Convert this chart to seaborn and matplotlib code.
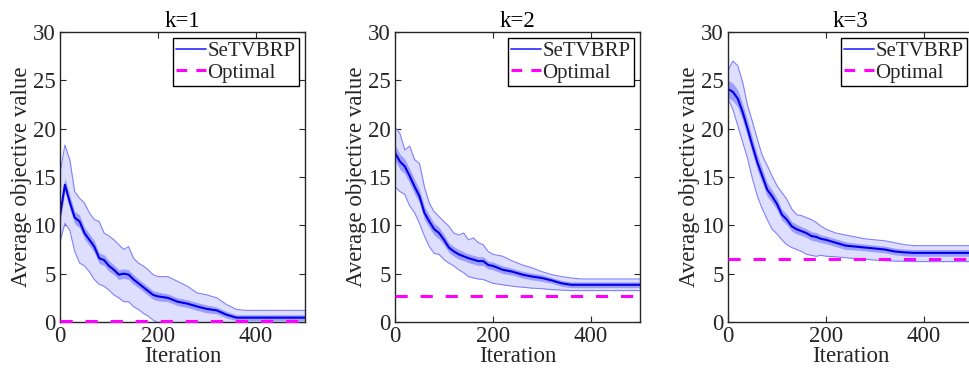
import numpy as np
import pandas as pd
import matplotlib
matplotlib.use("Agg")
import matplotlib.pyplot as plt
import seaborn as sns
from matplotlib.lines import Line2D

# ---------------- data ----------------
ITER = [0, 10, 20, 30, 40, 50, 60, 70, 80, 90, 100, 110, 120, 130, 140, 150,
        160, 170, 180, 190, 200, 220, 240, 260, 280, 300, 320, 340, 360, 380,
        400, 420, 440, 460, 480, 500]

TITLES = ["k=1", "k=2", "k=3"]
OPTIMAL = [0.1, 2.7, 6.5]

mean_k1 = [11.0, 14.2, 12.4, 10.8, 10.4, 9.2, 8.5, 7.8, 6.6, 6.4, 5.8, 5.4, 4.9,
           5.0, 4.9, 4.4, 4.0, 3.6, 3.2, 2.8, 2.65, 2.5, 2.1, 1.9, 1.6, 1.35,
           1.2, 0.75, 0.45, 0.45, 0.45, 0.45, 0.45, 0.45, 0.45, 0.45]
upper_k1 = [15.4, 18.3, 16.8, 13.5, 12.8, 12.3, 11.3, 10.6, 10.4, 9.2, 8.9, 8.5,
            8.0, 7.5, 7.8, 6.6, 6.1, 5.8, 5.4, 4.9, 4.7, 4.7, 4.2, 3.7, 3.0,
            2.8, 2.5, 1.8, 1.3, 1.2, 1.2, 1.2, 1.2, 1.2, 1.2, 1.2]
lower_k1 = [8.3, 10.2, 9.5, 7.3, 6.1, 5.8, 5.2, 4.4, 3.9, 3.7, 3.3, 2.8, 2.5,
            2.1, 2.1, 1.6, 1.3, 0.9, 0.6, 0.2, -0.1, -0.3, -0.5, -0.6, -0.6,
            -0.6, -0.5, -0.4, -0.3, -0.3, -0.3, -0.3, -0.3, -0.3, -0.3, -0.3]
inner_k1 = [0.7, 0.7, 0.7, 0.65, 0.65, 0.6, 0.6, 0.6, 0.55, 0.55, 0.55, 0.5,
            0.5, 0.5, 0.5, 0.5, 0.45, 0.45, 0.45, 0.45, 0.45, 0.4, 0.4, 0.4,
            0.4, 0.4, 0.35, 0.35, 0.3, 0.3, 0.3, 0.3, 0.3, 0.3, 0.3, 0.3]

mean_k2 = [17.5, 16.6, 16.1, 15.1, 14.0, 13.0, 11.3, 10.4, 9.6, 9.2, 8.5, 7.7,
           7.3, 7.0, 6.8, 6.6, 6.45, 6.3, 6.3, 5.9, 5.8, 5.4, 5.2, 4.9, 4.7,
           4.55, 4.3, 4.0, 3.85, 3.85, 3.85, 3.85, 3.85, 3.85, 3.85, 3.85]
upper_k2 = [20.2, 19.5, 17.8, 18.2, 16.8, 16.4, 14.0, 12.3, 11.4, 10.9, 10.4,
            9.9, 9.2, 9.0, 9.2, 8.5, 8.7, 8.2, 8.0, 7.3, 7.0, 6.8, 6.3, 5.9,
            5.6, 5.2, 4.9, 4.7, 4.55, 4.45, 4.45, 4.45, 4.45, 4.45, 4.45, 4.45]
lower_k2 = [14.0, 13.5, 13.2, 12.0, 11.3, 10.2, 8.9, 7.8, 7.1, 7.0, 6.45, 6.1,
            5.8, 5.4, 5.1, 4.7, 4.55, 4.45, 4.4, 4.2, 4.0, 3.85, 3.7, 3.6, 3.5,
            3.45, 3.35, 3.3, 3.25, 3.25, 3.25, 3.25, 3.25, 3.25, 3.25, 3.25]
inner_k2 = [0.8, 0.8, 0.75, 0.75, 0.75, 0.7, 0.7, 0.65, 0.6, 0.6, 0.55, 0.5,
            0.5, 0.5, 0.45, 0.45, 0.45, 0.45, 0.45, 0.4, 0.4, 0.4, 0.35, 0.35,
            0.35, 0.35, 0.3, 0.3, 0.3, 0.3, 0.3, 0.3, 0.3, 0.3, 0.3, 0.3]

mean_k3 = [24.1, 23.8, 23.1, 21.7, 20.0, 18.2, 16.5, 15.1, 13.7, 13.0, 12.2,
           11.1, 10.6, 9.9, 9.6, 9.4, 9.2, 8.9, 8.8, 8.6, 8.5, 8.2, 7.9, 7.8,
           7.7, 7.6, 7.5, 7.3, 7.2, 7.15, 7.15, 7.15, 7.15, 7.15, 7.15, 7.15]
upper_k3 = [26.0, 27.0, 26.5, 24.8, 22.4, 20.7, 18.9, 17.2, 16.2, 15.1, 14.1,
            13.4, 12.7, 11.7, 11.1, 11.0, 10.8, 10.6, 10.3, 9.9, 9.6, 9.2, 9.0,
            8.8, 8.6, 8.5, 8.4, 8.2, 8.0, 7.9, 7.9, 7.9, 7.9, 7.9, 7.9, 7.9]
lower_k3 = [23.1, 22.0, 20.3, 18.6, 16.9, 14.8, 13.0, 11.7, 10.6, 9.6, 9.1, 8.5,
            8.0, 7.7, 7.5, 7.3, 7.0, 6.9, 6.8, 6.9, 6.8, 6.75, 6.65, 6.55, 6.5,
            6.4, 6.35, 6.3, 6.27, 6.25, 6.25, 6.25, 6.25, 6.25, 6.25, 6.25]
inner_k3 = [0.9, 0.9, 0.9, 0.85, 0.85, 0.8, 0.8, 0.75, 0.7, 0.65, 0.6, 0.55,
            0.55, 0.5, 0.5, 0.45, 0.45, 0.45, 0.45, 0.4, 0.4, 0.4, 0.4, 0.35,
            0.35, 0.35, 0.35, 0.35, 0.35, 0.35, 0.35, 0.35, 0.35, 0.35, 0.35, 0.35]

MEANS = [mean_k1, mean_k2, mean_k3]
UPPERS = [upper_k1, upper_k2, upper_k3]
LOWERS = [lower_k1, lower_k2, lower_k3]
INNERS = [inner_k1, inner_k2, inner_k3]

XTICKS = [0, 200, 400]
YTICKS = [0, 5, 10, 15, 20, 25, 30]

# ---------------- style ----------------
sns.set_style("ticks")
plt.rcParams["font.family"] = ["Liberation Serif", "DejaVu Serif"]
plt.rcParams["mathtext.fontset"] = "stix"

C_OUTER_FILL = "#dedeff"
C_OUTER_EDGE = "#8080ff"
C_INNER_FILL = "#9d9dff"
C_MEAN = "#0000e6"
C_LEG = "#3a3aff"
C_OPT = "#ff00ff"
C_AX = "#262626"

W, H = 969, 383
fig = plt.figure(figsize=(W / 100, H / 100), dpi=100)

lefts = [60, 395, 728]
ax_w, ax_h = 245, 290
ax_bottom = 383 - 322

for i in range(3):
    ax = fig.add_axes([lefts[i] / W, ax_bottom / H, ax_w / W, ax_h / H])
    x = np.array(ITER, dtype=float)
    m = np.array(MEANS[i])
    up = np.array(UPPERS[i])
    lo = np.array(LOWERS[i])
    hw = np.array(INNERS[i])

    ax.fill_between(x, lo, up, color=C_OUTER_FILL, lw=0, zorder=1)
    ax.fill_between(x, m - hw, m + hw, color=C_INNER_FILL, lw=0, zorder=2)

    df = pd.DataFrame({"Iteration": x, "mean": m, "upper": up, "lower": lo,
                       "opt": np.full_like(x, OPTIMAL[i])})
    sns.lineplot(data=df, x="Iteration", y="upper", ax=ax, color=C_OUTER_EDGE,
                 lw=0.8, zorder=3)
    sns.lineplot(data=df, x="Iteration", y="lower", ax=ax, color=C_OUTER_EDGE,
                 lw=0.8, zorder=3)
    sns.lineplot(data=df, x="Iteration", y="mean", ax=ax, color=C_MEAN,
                 lw=1.5, zorder=4)
    sns.lineplot(data=df, x="Iteration", y="opt", ax=ax, color=C_OPT,
                 lw=2.2, zorder=6, dashes=False, linestyle=(0, (4, 4.2)),
                 clip_on=False)

    ax.set_xlim(0, 500)
    ax.set_ylim(0, 30)
    ax.set_xticks(XTICKS)
    ax.set_yticks(YTICKS)
    ax.tick_params(axis="both", which="both", direction="in", length=4,
                   width=0.8, colors=C_AX, labelsize=16.5, top=True,
                   right=(i < 2), pad=3)
    for sp in ax.spines.values():
        sp.set_visible(True)
        sp.set_color(C_AX)
        sp.set_linewidth(1.0)
        sp.set_zorder(5)
    ax.set_title(TITLES[i], fontsize=16.5, color="black", pad=3)
    ax.set_xlabel("Iteration", fontsize=16.5, color=C_AX, labelpad=-1)
    ax.set_ylabel("Average objective value", fontsize=16.5, color=C_AX,
                  labelpad=1)

    handles = [Line2D([], [], color=C_LEG, lw=1.3),
               Line2D([], [], color=C_OPT, lw=2.2, linestyle=(0, (3.5, 3)))]
    leg = ax.legend(handles, ["SeTVBRP", "Optimal"], loc="upper right",
                    fontsize=15, frameon=True, fancybox=False,
                    edgecolor="black", handlelength=1.45, handletextpad=0.05,
                    borderpad=0.15, labelspacing=0.1, borderaxespad=0.3)
    leg.get_frame().set_linewidth(1.0)
    leg.get_frame().set_alpha(1)
    leg.set_zorder(7)

fig.savefig("out.png", dpi=100)
